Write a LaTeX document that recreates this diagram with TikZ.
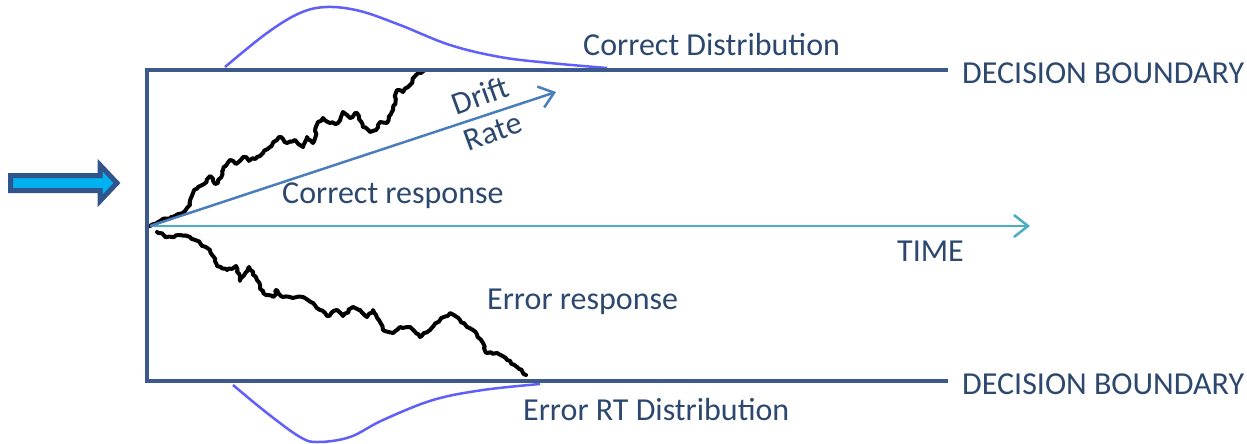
\documentclass[tikz,border=0pt]{standalone}
\usepackage{fontspec}
\setmainfont{Carlito}
\usetikzlibrary{arrows.meta,decorations.pathmorphing}
\definecolor{boxblue}{RGB}{59,89,138}
\definecolor{txtblue}{RGB}{44,72,110}
\definecolor{driftblue}{RGB}{74,126,187}
\definecolor{timeblue}{RGB}{75,172,198}
\definecolor{distblue}{RGB}{95,95,250}
\definecolor{arrowcyan}{RGB}{0,176,240}
\definecolor{arrowedge}{RGB}{47,85,140}
\tikzset{
  lbl/.style={text=txtblue, font=\fontsize{32}{38}\selectfont, inner sep=0pt, anchor=west},
  rotlbl/.style={text=txtblue, font=\fontsize{32}{38}\selectfont, inner sep=0pt, rotate=20},
  boundary/.style={draw=boxblue, line width=4pt},
  walk/.style={draw=black, line width=4pt, line join=round, line cap=round,
    decorate, decoration={random steps, segment length=3pt, amplitude=1.2pt}},
  dist/.style={draw=distblue, line width=2.5pt},
  openarrow/.style={-{Straight Barb[length=14pt,width=22pt,line width=2.5pt]}, line width=2.5pt}
}
\begin{document}
\begin{tikzpicture}[x=1pt,y=-1pt]
\pgfmathsetseed{7}
\useasboundingbox (0,0) rectangle (1247,444);
% corners
\coordinate (tl) at (147,70);
\coordinate (tr) at (948,70);
\coordinate (bl) at (147,381);
\coordinate (br) at (948,381);
\coordinate (origin) at (150,226);
\coordinate (driftend) at (556,92);
\coordinate (timeend) at (1030,226);
% distributions
\draw[dist] plot[smooth, tension=0.6] coordinates {(225,67) (267,33) (300,13) (327,7) (360,11) (400,25) (450,45) (500,57) (550,63) (607,68)};
\draw[dist] plot[smooth, tension=0.6] coordinates {(233,385) (267,413) (300,437) (318,442) (350,437) (383,420) (433,400) (483,390) (540,384)};
% random walks
\draw[walk] (150,226) -- (160,221) -- (173,217) -- (185,211) -- (190,205) -- (193,193) -- (198,187) -- (204,184) -- (210,176) -- (215,184) -- (218,183) -- (223,170) -- (230,160) -- (236,164) -- (243,157) -- (250,160) -- (257,157) -- (263,153) -- (270,147) -- (277,140) -- (281,137) -- (287,143) -- (295,140) -- (303,147) -- (307,137) -- (313,143) -- (318,122) -- (323,118) -- (330,123) -- (338,123) -- (343,112) -- (350,118) -- (357,113) -- (363,127) -- (370,132) -- (376,130) -- (380,122) -- (387,123) -- (393,110) -- (397,90) -- (403,92) -- (410,85) -- (416,75) -- (421,73) -- (425,70);
\draw[walk] (157,232) -- (167,237) -- (180,235) -- (190,237) -- (200,243) -- (210,250) -- (217,266) -- (227,270) -- (236,266) -- (240,281) -- (249,267) -- (257,280) -- (263,293) -- (273,297) -- (277,290) -- (283,297) -- (297,297) -- (303,297) -- (313,303) -- (320,310) -- (327,316) -- (337,310) -- (343,316) -- (353,307) -- (360,310) -- (367,317) -- (373,310) -- (383,330) -- (393,333) -- (400,327) -- (410,327) -- (420,337) -- (430,330) -- (440,320) -- (450,313) -- (460,320) -- (467,327) -- (473,330) -- (483,343) -- (487,353) -- (497,353) -- (507,360) -- (517,367) -- (526,375);
% box
\draw[boundary] (tr) -- (tl) -- (bl) -- (br);
% arrows
\draw[openarrow, draw=timeblue] (origin) -- (timeend);
\draw[openarrow, draw=driftblue] (origin) -- (driftend);
% left block arrow
\draw[fill=arrowcyan, draw=arrowedge, line width=5pt, line join=miter]
  (10.5,175.5) -- (100,175.5) -- (100,165) -- (117,183) -- (100,201) -- (100,190.5) -- (10.5,190.5) -- cycle;
% labels
\node[lbl] (cdist) at (583,45) {Correct Distribution};
\node[lbl] (db1) at (962,73) {DECISION BOUNDARY};
\node[lbl] (db2) at (962,384) {DECISION BOUNDARY};
\node[lbl] (cresp) at (282,196) {Correct response};
\node[lbl] (time) at (897,251) {TIME};
\node[lbl] (eresp) at (487,302) {Error response};
\node[lbl] (edist) at (523,410) {Error RT Distribution};
\node[rotlbl] (drift) at (480,95) {Drift};
\node[rotlbl] (rate) at (493,132) {Rate};
\end{tikzpicture}
\end{document}
